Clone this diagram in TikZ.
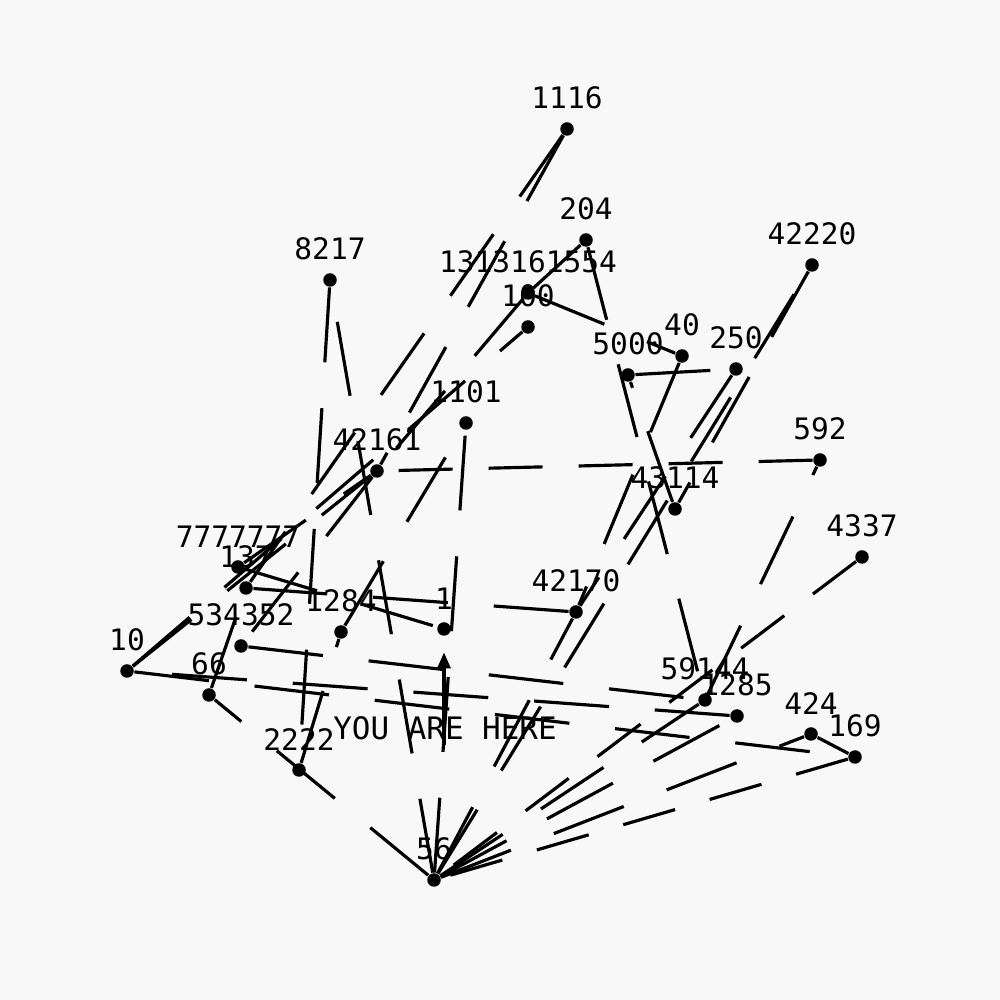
\documentclass[tikz,border=0pt]{standalone}
\usepackage{fontspec}
\usetikzlibrary{arrows.meta}
\newfontfamily\plotfont{DejaVu Sans Mono}
\definecolor{paper}{RGB}{248,248,248}

\begin{document}
\begin{tikzpicture} [
          dot/.style = {circle, fill=black, inner sep=0pt, minimum size=1.35mm},
          tag/.style = {font=\plotfont\fontsize{8.4}{10}\selectfont, inner sep=0pt},
          dash link/.style = {line width=0.9pt, dash pattern=on 7.5mm off 4.6mm},
          short link/.style = {line width=0.9pt, dash pattern=on 5.4mm off 3.6mm},
          pointer/.style = {line width=0.9pt, -{Triangle[length=1.6mm, width=1.3mm]}, shorten >=1.6mm},
          label distance=1.15mm
          ]
  \fill[paper] (0,0) rectangle (10,10);

  \node[dot, label={[tag]above:1116}] (n1116) at (5.67,8.71) {};
  \node[dot, label={[tag]above:204}] (n204) at (5.86,7.60) {};
  \node[dot, label={[tag]above:1313161554}] (n1313161554) at (5.28,7.07) {};
  \node[dot, label={[tag]above:100}] (n100) at (5.28,6.73) {};
  \node[dot, label={[tag]above:8217}] (n8217) at (3.30,7.20) {};
  \node[dot, label={[tag]above:42220}] (n42220) at (8.12,7.35) {};
  \node[dot, label={[tag]above:5000}] (n5000) at (6.28,6.25) {};
  \node[dot, label={[tag]above:40}] (n40) at (6.82,6.44) {};
  \node[dot, label={[tag]above:250}] (n250) at (7.36,6.31) {};
  \node[dot, label={[tag]above:1101}] (n1101) at (4.66,5.77) {};
  \node[dot, label={[tag]above:42161}] (n42161) at (3.77,5.29) {};
  \node[dot, label={[tag]above:592}] (n592) at (8.20,5.40) {};
  \node[dot, label={[tag]above:43114}] (n43114) at (6.75,4.91) {};
  \node[dot, label={[tag]above:4337}] (n4337) at (8.62,4.43) {};
  \node[dot, label={[tag]above:7777777}] (n7777777) at (2.38,4.33) {};
  \node[dot, label={[tag]above:137}] (n137) at (2.46,4.12) {};
  \node[dot, label={[tag]above:534352}] (n534352) at (2.41,3.54) {};
  \node[dot, label={[tag]above:10}] (n10) at (1.27,3.29) {};
  \node[dot, label={[tag]above:66}] (n66) at (2.09,3.05) {};
  \node[dot, label={[tag]above:1284}] (n1284) at (3.41,3.68) {};
  \node[dot, label={[tag]above:1}] (n1) at (4.44,3.71) {};
  \node[dot, label={[tag]above:42170}] (n42170) at (5.76,3.88) {};
  \node[dot, label={[tag]above:59144}] (n59144) at (7.05,3.00) {};
  \node[dot, label={[tag]above:1285}] (n1285) at (7.37,2.84) {};
  \node[dot, label={[tag]above:424}] (n424) at (8.11,2.66) {};
  \node[dot, label={[tag]above:169}] (n169) at (8.55,2.43) {};
  \node[dot, label={[tag]above:2222}] (n2222) at (2.99,2.30) {};
  \node[dot, label={[tag]above:56}] (n56) at (4.34,1.20) {};

  \node[tag, font=\plotfont\fontsize{8.8}{10}\selectfont] (here) at (4.45,2.72) {YOU ARE HERE};
  \coordinate (foot) at (4.44,2.55);
  \draw[pointer] (foot) -- (n1);

  \draw[dash link] (n1116) -- (n42161);
  \draw[dash link] (n1116) -- (n137);
  \draw[dash link] (n204) -- (n1313161554);
  \draw[dash link] (n204) -- (n59144);
  \draw[dash link] (n1313161554) -- (n40);
  \draw[dash link] (n1313161554) -- (n42161);
  \draw[dash link] (n5000) -- (n250);
  \draw[dash link] (n43114) -- (n5000);
  \draw[dash link] (n40) -- (n42170);
  \draw[dash link] (n250) -- (n42170);
  \draw[dash link] (n42220) -- (n43114);
  \draw[dash link] (n56) -- (n42220);
  \draw[short link] (n592) -- (n42161);
  \draw[dash link] (n59144) -- (n592);
  \draw[short link] (n4337) -- (n56);
  \draw[dash link] (n56) -- (n59144);
  \draw[dash link] (n56) -- (n1285);
  \draw[dash link] (n56) -- (n424);
  \draw[short link] (n169) -- (n56);
  \draw[dash link] (n424) -- (n169);
  \draw[dash link] (n10) -- (n169);
  \draw[dash link] (n1285) -- (n10);
  \draw[dash link] (n534352) -- (n59144);
  \draw[dash link] (n10) -- (n100);
  \draw[dash link] (n10) -- (n42161);
  \draw[dash link] (n42161) -- (n534352);
  \draw[dash link] (n7777777) -- (n42161);
  \draw[dash link] (n8217) -- (n2222);
  \draw[dash link] (n56) -- (n8217);
  \draw[dash link] (n66) -- (n137);
  \draw[dash link] (n56) -- (n66);
  \draw[dash link] (n2222) -- (n1284);
  \draw[dash link] (n1284) -- (n1101);
  \draw[dash link] (n7777777) -- (n1);
  \draw[dash link] (n42170) -- (n137);
  \draw[dash link] (n56) -- (n1101);
  \draw[dash link] (n56) -- (n42170);
\end{tikzpicture}
\end{document}
